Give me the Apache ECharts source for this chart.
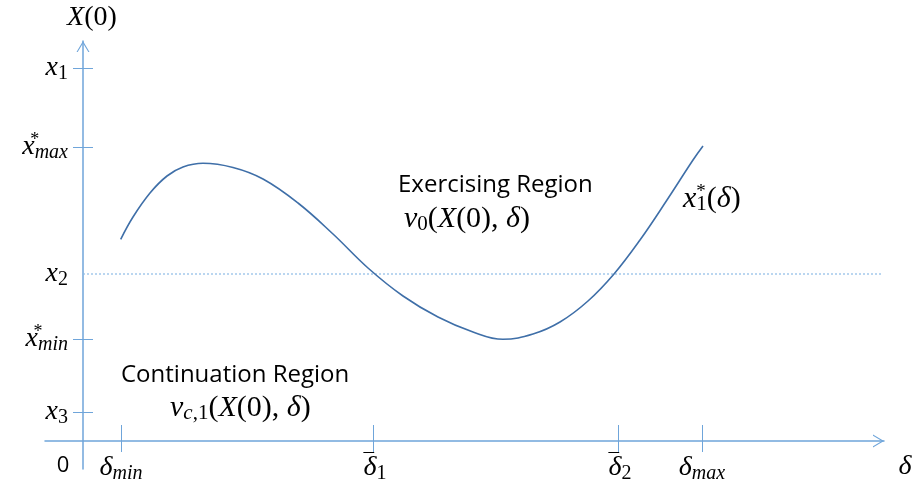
<!DOCTYPE html>
<html><head><meta charset="utf-8">
<script src="https://cdn.jsdelivr.net/npm/echarts@6/dist/echarts.min.js"></script>
<style>html,body{margin:0;padding:0;background:#fff}#c{width:913px;height:490px}</style>
</head><body><div id="c"></div>
<script>
// ---- data ----
const curveX = [0.377, 0.50, 0.67, 0.84, 1.00, 1.20, 1.50, 1.80, 2.15, 2.50, 2.85, 3.20, 3.55, 3.90, 4.20, 4.50, 4.77, 5.05, 5.31, 5.57, 5.84, 6.10, 6.20];
const curveY = [2.017, 2.24, 2.48, 2.65, 2.74, 2.777, 2.735, 2.62, 2.38, 2.07, 1.73, 1.45, 1.24, 1.09, 1.017, 1.07, 1.19, 1.40, 1.67, 2.01, 2.41, 2.81, 2.95];
const xTickValues = [0.38, 2.90, 5.35, 6.19];
const xTickLabels = ['{m|δ}{s|min}', '{b|¯}{m|δ}{n|1}', '{b|¯}{m|δ}{n|2}', '{m|δ}{s|max}'];
const yTickValues = [3.73, 2.94, 1.02, 0.29];
const yLabelValues = [3.73, 2.94, 1.67, 1.02, 0.29];
const yTickLabels = ['{m|x}{n|1}', '{m|x}{p|*}{s|max}', '{m|x}{n|2}', '{m|x}{p|*}{s|min}', '{m|x}{n|3}'];
const x2LineX = [0, 8.0];
const x2LineY = [1.67, 1.67];
const xRange = [-0.38, 8.01];
const yRange = [-0.28, 4.0];

// ---- style ----
const axisColor = '#6FA5DA';
const curveColor = '#3F6FA8';
const serif = 'Liberation Serif';
const sans = 'Open Sans';
const arrowPath = 'path://M0,11 L6.5,0 L13,11 L11.8,11 L6.5,2.2 L1.2,11 Z';
function mkRich(big, small) {
  return {
    m: {fontFamily: serif, fontStyle: 'italic', fontSize: big, lineHeight: 32, color: '#000'},
    u: {fontFamily: serif, fontSize: big, lineHeight: 32, color: '#000'},
    s: {fontFamily: serif, fontStyle: 'italic', fontSize: small, lineHeight: 14, verticalAlign: 'bottom', color: '#000'},
    n: {fontFamily: serif, fontSize: small, lineHeight: 14, verticalAlign: 'bottom', color: '#000'},
    p: {fontFamily: serif, fontSize: small - 2, lineHeight: 12, verticalAlign: 'top', width: 0, align: 'left', color: '#000'},
    b: {fontFamily: serif, fontSize: 21, lineHeight: 15, verticalAlign: 'top', width: 0, align: 'left', color: '#000', padding: [0, 0, 0, 4]}
  };
}
const rich = mkRich(28, 20);
const richBig = mkRich(30, 21);

const chart = echarts.init(document.getElementById('c'), null, {renderer: 'canvas'});
const pairs = curveX.map((x, i) => [x, curveY[i]]);
const x2pairs = x2LineX.map((x, i) => [x, x2LineY[i]]);

const baseX = {type: 'value', min: xRange[0], max: xRange[1], position: 'bottom', splitLine: {show: false}};
const baseY = {type: 'value', min: yRange[0], max: yRange[1], position: 'left', splitLine: {show: false}};

chart.setOption({
  animation: false,
  backgroundColor: '#fff',
  grid: {left: 45, right: 29, top: 41, bottom: 21, containLabel: false, outerBoundsMode: 'none'},
  xAxis: [
    Object.assign({}, baseX, {
      axisLine: {show: true, onZero: true, symbol: ['none', arrowPath], symbolSize: [13, 11], symbolOffset: [0, -5.5], lineStyle: {color: axisColor, width: 1.5}},
      axisTick: {show: true, inside: true, length: 16, customValues: xTickValues, lineStyle: {color: axisColor, width: 1}},
      axisLabel: {show: true, customValues: xTickValues, margin: -17, rich: rich,
        formatter: v => xTickLabels[xTickValues.indexOf(v)] || ''}
    }),
    Object.assign({}, baseX, {
      axisLine: {show: false, onZero: true},
      axisTick: {show: true, inside: false, length: 11, customValues: xTickValues, lineStyle: {color: axisColor, width: 1}},
      axisLabel: {show: false}
    })
  ],
  yAxis: [
    Object.assign({}, baseY, {
      axisLine: {show: true, onZero: true, symbol: ['none', arrowPath], symbolSize: [13, 11], symbolOffset: [0, -5.5], lineStyle: {color: axisColor, width: 1.5}},
      axisTick: {show: true, inside: true, length: 10, customValues: yTickValues, lineStyle: {color: axisColor, width: 1}},
      axisLabel: {show: true, customValues: yLabelValues, margin: -23, rich: rich,
        formatter: v => yTickLabels[yLabelValues.indexOf(v)] || ''}
    }),
    Object.assign({}, baseY, {
      axisLine: {show: false, onZero: true},
      axisTick: {show: true, inside: false, length: 10, customValues: yTickValues, lineStyle: {color: axisColor, width: 1}},
      axisLabel: {show: false}
    })
  ],
  series: [
    {type: 'line', xAxisIndex: 0, yAxisIndex: 0, data: x2pairs, showSymbol: false, silent: true,
     lineStyle: {color: '#8DBBE6', width: 1.2, type: [2, 2]}},
    {type: 'line', xAxisIndex: 0, yAxisIndex: 0, data: pairs, smooth: 0.4, showSymbol: false, silent: true,
     lineStyle: {color: curveColor, width: 1.6}}
  ],
  graphic: [
    {type: 'text', x: 92, y: 18, style: {text: '{m|X}{u|(0)}', rich: rich, align: 'center', verticalAlign: 'middle'}},
    {type: 'text', x: 905, y: 467, style: {text: '{m|δ}', rich: rich, align: 'center', verticalAlign: 'middle'}},
    {type: 'text', x: 63, y: 466, style: {text: '0', font: '22px ' + sans, fill: '#000', align: 'center', verticalAlign: 'middle'}},
    {type: 'text', x: 398, y: 185, style: {text: 'Exercising Region', font: '24px ' + sans, fill: '#000', align: 'left', verticalAlign: 'middle'}},
    {type: 'text', x: 404, y: 219, style: {text: '{m|v}{n|0}{u|(}{m|X}{u|(0), }{m|δ}{u|)}', rich: richBig, align: 'left', verticalAlign: 'middle'}},
    {type: 'text', x: 683, y: 199, style: {text: '{m|x}{p|*}{n|1}{u|(}{m|δ}{u|)}', rich: richBig, align: 'left', verticalAlign: 'middle'}},
    {type: 'text', x: 121, y: 375, style: {text: 'Continuation Region', font: '24px ' + sans, fill: '#000', align: 'left', verticalAlign: 'middle'}},
    {type: 'text', x: 170, y: 408, style: {text: '{m|v}{s|c}{n|,1}{u|(}{m|X}{u|(0), }{m|δ}{u|)}', rich: richBig, align: 'left', verticalAlign: 'middle'}}
  ]
});
</script>
</body></html>
